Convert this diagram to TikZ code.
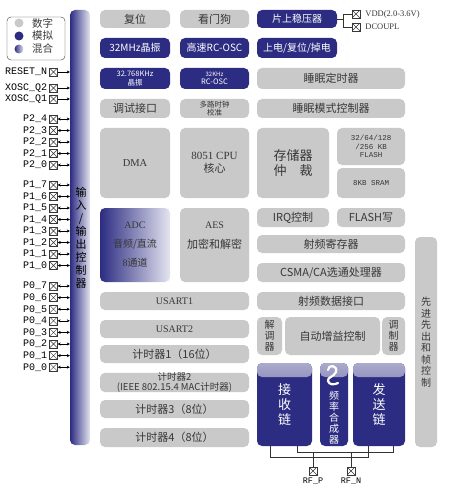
\documentclass[tikz,border=0pt]{standalone}
\usepackage{fontspec}
\setmainfont{Liberation Serif}
\newfontfamily\cjk{Noto Sans CJK SC}
\newfontfamily\pinfont{Liberation Mono}
\usepackage{tikz}
\usetikzlibrary{calc,positioning,arrows.meta}
\usepackage{xcolor}
\definecolor{mynavy}{RGB}{44,44,130}
\definecolor{mygray}{RGB}{201,201,201}
\definecolor{mytext}{RGB}{55,55,55}
\definecolor{mylight}{RGB}{228,228,240}

\begin{document}
\begin{tikzpicture}[x=1pt, y=-1pt,
  box/.style={rounded corners=5pt, inner sep=0pt, align=center},
  dig/.style={box, fill=mygray, text=mytext, font=\cjk\fontsize{11}{13}\selectfont},
  ana/.style={box, fill=mynavy, text=white, font=\cjk\fontsize{10}{12}\selectfont},
  mix/.style={box, left color=mynavy, right color=mylight, text=mytext, font=\fontsize{10}{12}\selectfont},
  chain/.style={ana, font=\cjk\fontsize{13}{15}\selectfont,
    path picture={\shade[top color=mynavy!40!white, bottom color=mynavy]
      (path picture bounding box.north west) rectangle ([yshift=-14pt]path picture bounding box.north east);}},
  sz/.style 2 args={minimum width=#1, minimum height=#2},
  pinbox/.style={draw=mytext, minimum size=8pt, inner sep=0pt,
    path picture={\draw[mytext] (path picture bounding box.south west) -- (path picture bounding box.north east)
      (path picture bounding box.north west) -- (path picture bounding box.south east);}},
  pinlbl/.style={font=\pinfont\fontsize{10}{11}\selectfont, inner sep=1pt},
  io/.style={{Stealth[length=3pt,width=3pt]}-{Stealth[length=3pt,width=3pt]}},
  inarrow/.style={-{Stealth[length=3pt,width=3pt]}},
  link/.style={draw=black!80, thin}]
  \useasboundingbox (0,0) rectangle (463,489);

  % Legend
  \node[draw=mytext, rounded corners=4pt, sz={58}{43}] (legend) at (36,38.5) {};
  \node[circle, fill=mygray, minimum size=9pt, inner sep=0pt] (ldig) at (19,23) {};
  \node[circle, fill=mynavy, minimum size=9pt, inner sep=0pt] (lana) at (19,36) {};
  \node[circle, left color=mynavy, right color=mylight, minimum size=9pt, inner sep=0pt] (lmix) at (19,49) {};
  \node[font=\cjk\fontsize{10.5}{12}\selectfont, text=mytext, right=5pt of ldig] (ldigt) {数字};
  \node[font=\cjk\fontsize{10.5}{12}\selectfont, text=mytext, right=5pt of lana] (lanat) {模拟};
  \node[font=\cjk\fontsize{10.5}{12}\selectfont, text=mytext, right=5pt of lmix] (lmixt) {混合};

  % I/O bus
  \node[box, left color=mynavy, right color=mylight, sz={20}{435}] (iobus) at (80,227.5) {};
  \node[font=\cjk\fontsize{11}{13}\selectfont, align=center] (iotxt) at (81,238) {输\\入\\/\\输\\出\\控\\制\\器};

  % Pins
  \foreach \lbl/\nm/\yy in {RESET\_N/rst/72, XOSC\_Q2/xq2/88, XOSC\_Q1/xq1/99} {
    \node[pinbox] (\nm) at (53.5,\yy) {};
    \node[pinlbl, left=1pt of \nm] (\nm-l) {\lbl};
    \draw[inarrow] (\nm.east) -- (\nm.east -| iobus.west);
  }
  \foreach \lbl/\nm/\yy in {P2\_4/p24/119, P2\_3/p23/130.5, P2\_2/p22/142, P2\_1/p21/153.5, P2\_0/p20/165,
      P1\_7/p17/185, P1\_6/p16/196.5, P1\_5/p15/208, P1\_4/p14/219.5, P1\_3/p13/231, P1\_2/p12/242.5, P1\_1/p11/254, P1\_0/p10/265.5,
      P0\_7/p07/286, P0\_6/p06/297.6, P0\_5/p05/309.2, P0\_4/p04/320.8, P0\_3/p03/332.4, P0\_2/p02/344, P0\_1/p01/355.6, P0\_0/p00/367.2} {
    \node[pinbox] (\nm) at (53.5,\yy) {};
    \node[pinlbl, left=1pt of \nm] (\nm-l) {\lbl};
    \draw[io] (\nm.east) -- (\nm.east -| iobus.west);
  }

  % Clocks, reset, power
  \node[dig, sz={70}{18}] (reset) at (135,19) {复位};
  \node[dig, sz={69}{18}] (wdt) at (214.5,19) {看门狗};
  \node[ana, sz={80}{18}] (vreg) at (297,19) {片上稳压器};
  \node[ana, sz={70}{20}] (xosc) at (135,48) {32MHz晶振};
  \node[ana, sz={69}{20}] (rcosc) at (214.5,48) {高速RC-OSC};
  \node[ana, sz={80}{20}] (por) at (297,48) {上电/复位/掉电};
  \node[ana, sz={70}{21}, font=\cjk\fontsize{7.5}{8.5}\selectfont] (xosc32) at (135,78.5) {32.768KHz\\晶振};
  \node[ana, sz={69}{21}, font=\cjk\fontsize{7.5}{8}\selectfont] (rc32) at (214.5,78.5) {{\fontsize{6}{7}\selectfont 32KHz}\\RC-OSC};
  \node[dig, sz={148}{21}] (sleept) at (331,78.5) {睡眠定时器};
  \node[dig, sz={70}{19}] (dbg) at (135,108.5) {调试接口};
  \node[dig, sz={69}{19}, font=\cjk\fontsize{7.5}{8.5}\selectfont] (clkmux) at (214.5,108.5) {多路时钟\\校准};
  \node[dig, sz={148}{19}] (pmctl) at (331,108.5) {睡眠模式控制器};

  % VDD pins
  \node[pinbox] (vddp) at (356,14) {};
  \node[pinbox] (dcp) at (356,27) {};
  \node[font=\fontsize{8.5}{9}\selectfont, text=mytext, inner sep=0pt, right=5pt of vddp] (vddl) {VDD(2.0-3.6V)};
  \node[font=\fontsize{8.5}{9}\selectfont, text=mytext, inner sep=0pt, right=5pt of dcp] (dcl) {DCOUPL};
  \coordinate (vj) at ($(vreg.east)+(6,0)$);
  \draw[link] (vreg.east) -- (vj);
  \draw[link] (vddp.west) -| (vj) |- (dcp.west);

  % Core
  \node[dig, sz={70}{70}, font=\fontsize{10.5}{12}\selectfont] (dma) at (135,163) {DMA};
  \node[dig, sz={69}{70}, font=\fontsize{11}{13}\selectfont] (cpu) at (214.5,163) {8051 CPU\\{\cjk 核心}};
  \node[dig, sz={72}{70}, font=\cjk\fontsize{13}{15}\selectfont] (arb) at (293,163) {存储器\\仲\quad 裁};
  \node[dig, sz={68}{37}, font=\pinfont\fontsize{7.5}{8.5}\selectfont] (flash) at (371,146.5) {32/64/128\\/256 KB\\FLASH};
  \node[dig, sz={68}{30}, font=\pinfont\fontsize{7.5}{9}\selectfont] (sram) at (371,183) {8KB SRAM};
  \node[mix, sz={70}{74}] (adc) at (135,245) {ADC\\[7pt]{\cjk 音频/直流}\\[7pt]8{\cjk 通道}};
  \node[dig, sz={69}{74}] (aes) at (214.5,245) {{\rmfamily\fontsize{10}{12}\selectfont AES}\\[7pt]加密和解密\\[7pt]\mbox{}};
  \node[dig, sz={72}{19}] (irq) at (293,217.5) {IRQ控制};
  \node[dig, sz={68}{19}] (flwr) at (371,217.5) {FLASH写};
  \node[dig, sz={148}{18}] (rfreg) at (331,244) {射频寄存器};
  \node[dig, sz={148}{19}] (csma) at (331,272.5) {CSMA/CA选通处理器};
  \node[dig, sz={22}{210}, font=\cjk\fontsize{10}{11.5}\selectfont] (fifo) at (426,342) {先\\进\\先\\出\\和\\帧\\控\\制};

  % Peripherals
  \node[dig, sz={149}{18}, font=\fontsize{10}{12}\selectfont] (usart1) at (174.5,301) {USART1};
  \node[dig, sz={149}{18}, font=\fontsize{10}{12}\selectfont] (usart2) at (174.5,329) {USART2};
  \node[dig, sz={149}{18}] (tmr1) at (174.5,354) {计时器1（16位）};
  \node[dig, sz={149}{19}, font=\cjk\fontsize{9.5}{9.5}\selectfont] (tmr2) at (174.5,382.5) {计时器2\\(IEEE 802.15.4 MAC计时器)};
  \node[dig, sz={149}{18}] (tmr3) at (174.5,409) {计时器3（8位）};
  \node[dig, sz={149}{19}] (tmr4) at (174.5,437.5) {计时器4（8位）};

  % Radio
  \node[dig, sz={148}{18}] (rfdata) at (331,301) {射频数据接口};
  \node[dig, sz={25}{38}, font=\cjk\fontsize{10}{11}\selectfont] (demod) at (269.5,336) {解\\调\\器};
  \node[dig, sz={95}{38}] (agc) at (332.5,336) {自动增益控制};
  \node[dig, sz={23}{38}, font=\cjk\fontsize{10}{11}\selectfont] (mod) at (393.5,336) {调\\制\\器};
  \node[chain, sz={55}{83}] (rx) at (284.5,404.5) {接\\收\\链};
  \node[chain, sz={28}{83}] (synth) at (334,404.5) {};
  \node[chain, sz={52}{83}] (tx) at (379,404.5) {发\\送\\链};
  \node[text=white, font=\cjk\fontsize{10}{11}\selectfont, align=center] (synthtxt) at (334,418) {频\\率\\合\\成\\器};
  \draw[white, line width=2.2pt, line cap=round] (328,370) .. controls (328,364) and (338,365) .. (336,372)
    .. controls (334,377) and (327,377) .. (328,381) .. controls (329,385) and (334,385) .. (338,383);

  % RF pins
  \coordinate (rfhi) at (0,452);
  \coordinate (rflo) at (0,457);
  \coordinate (rxa) at ([xshift=13pt]rx.south west);
  \coordinate (rxb) at ([xshift=40pt]rx.south west);
  \coordinate (txa) at ([xshift=15pt]tx.south west);
  \coordinate (txb) at ([xshift=40pt]tx.south west);
  \draw[link] (rxa) -- (rxa |- rflo) -| (txa);
  \draw[link] (rxb) -- (rxb |- rfhi) -| (txb);
  \node[pinbox] (rfp) at (313,471) {};
  \node[pinbox] (rfn) at (351,471) {};
  \draw[link] (rfp.north) -- (rfp.north |- rfhi);
  \draw[link] (rfn.north) -- (rfn.north |- rfhi);
  \node[pinlbl, font=\pinfont\fontsize{8.5}{9}\selectfont, below=1pt of rfp] (rfpl) {RF\_P};
  \node[pinlbl, font=\pinfont\fontsize{8.5}{9}\selectfont, below=1pt of rfn] (rfnl) {RF\_N};
\end{tikzpicture}
\end{document}
